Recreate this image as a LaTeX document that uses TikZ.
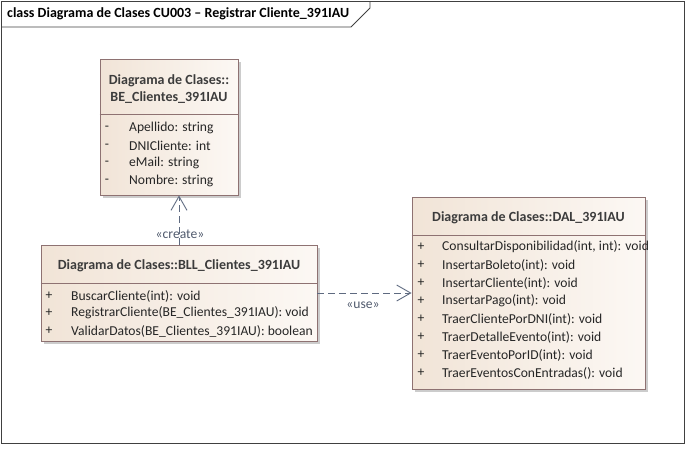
\documentclass[tikz,border=0pt]{standalone}
\usepackage{fontspec}
\setmainfont{Carlito}
\usetikzlibrary{arrows.meta,calc}
\definecolor{boxline}{HTML}{8E7272}
\definecolor{boxL}{HTML}{F1E4D7}
\definecolor{boxR}{HTML}{FCF8F4}
\definecolor{conn}{HTML}{5E6A80}
\definecolor{txt}{HTML}{262626}
\tikzset{
  classbox/.style={draw=boxline, line width=0.9pt, left color=boxL, right color=boxR, rectangle, inner sep=0pt},
  shadowbox/.style={fill=black!20, draw=none, rectangle, inner sep=0pt},
  hdr/.style={font=\fontsize{14}{16}\selectfont\bfseries, text=txt!90, align=center, inner sep=0pt},
  member/.style={font=\fontsize{13.6}{15}\selectfont, text=txt, anchor=west, inner sep=0pt},
  vis/.style={font=\fontsize{13.6}{15}\selectfont, text=txt, anchor=center, inner sep=0pt},
  stereo/.style={font=\fontsize{13.6}{15}\selectfont, text=conn!85!black, inner sep=0pt},
  depline/.style={draw=conn, line width=0.9pt, dash pattern=on 7pt off 4pt, -{Straight Barb[length=14pt,width=16pt,line width=0.9pt]}},
  divline/.style={draw=boxline, line width=0.9pt},
}
\begin{document}
\begin{tikzpicture}[x=1pt,y=-1pt]
\useasboundingbox (0,0) rectangle (692,451);
% frame
\draw[black!75, line width=0.8pt] (1.5,1.5) rectangle (684.5,443.5);
\draw[black!75, line width=0.8pt] (1.5,27) -- (351,27) -- (370,8) -- (370,1.5);
\node[font=\fontsize{14}{16}\selectfont\bfseries, anchor=west, inner sep=0pt] (title) at (7,14) {class Diagrama de Clases CU003 – Registrar Cliente\_391IAU};

% BE box
\node[shadowbox, minimum width=138pt, minimum height=136pt] (BEs) at (172,130) {};
\node[classbox, minimum width=138pt, minimum height=136pt] (BE) at (169,127) {};
\draw[divline] (BE.west |- 0,114) -- (BE.east |- 0,114);
\node[hdr] (BEh) at (169,89) {Diagrama de Clases::\\[1pt]BE\_Clientes\_391IAU};
\node[vis] (bv1) at (107,128) {-};
\node[vis] (bv2) at (107,146) {-};
\node[vis] (bv3) at (107,163) {-};
\node[vis] (bv4) at (107,181) {-};
\node[member] (ba1) at (129,128) {Apellido: string};
\node[member] (ba2) at (129,146) {DNICliente: int};
\node[member] (ba3) at (129,163) {eMail: string};
\node[member] (ba4) at (129,181) {Nombre: string};

% BLL box
\node[shadowbox, minimum width=276pt, minimum height=96pt] (BLLs) at (182,296) {};
\node[classbox, minimum width=276pt, minimum height=96pt] (BLL) at (179,293) {};
\draw[divline] (BLL.west |- 0,283) -- (BLL.east |- 0,283);
\node[hdr] (BLLh) at (179,266) {Diagrama de Clases::BLL\_Clientes\_391IAU};
\node[vis] (lv1) at (49,296) {+};
\node[vis] (lv2) at (49,313) {+};
\node[vis] (lv3) at (49,331) {+};
\node[member] (lm1) at (71,296) {BuscarCliente(int): void};
\node[member] (lm2) at (71,313) {RegistrarCliente(BE\_Clientes\_391IAU): void};
\node[member] (lm3) at (71,331) {ValidarDatos(BE\_Clientes\_391IAU): boolean};

% DAL box
\node[shadowbox, minimum width=233pt, minimum height=192pt] (DALs) at (531.5,296) {};
\node[classbox, minimum width=233pt, minimum height=192pt] (DAL) at (528.5,293) {};
\draw[divline] (DAL.west |- 0,235) -- (DAL.east |- 0,235);
\node[hdr] (DALh) at (528.5,218) {Diagrama de Clases::DAL\_391IAU};
\foreach \i/\y/\t in {1/247/{ConsultarDisponibilidad(int, int): void},
                      2/265/{InsertarBoleto(int): void},
                      3/283/{InsertarCliente(int): void},
                      4/301/{InsertarPago(int): void},
                      5/319/{TraerClientePorDNI(int): void},
                      6/337/{TraerDetalleEvento(int): void},
                      7/355/{TraerEventoPorID(int): void},
                      8/373/{TraerEventosConEntradas(): void}} {
  \node[vis] (dv\i) at (421,\y) {+};
  \node[member] (dm\i) at (442,\y) {\t};
}

% connectors
\draw[depline] (BLL.north) -- (BLL.north |- BE.south);
\node[stereo] (lcreate) at (180,234) {«create»};
\draw[depline] (BLL.east) -- (DAL.west);
\node[stereo] (luse) at (363,305) {«use»};
\end{tikzpicture}
\end{document}
